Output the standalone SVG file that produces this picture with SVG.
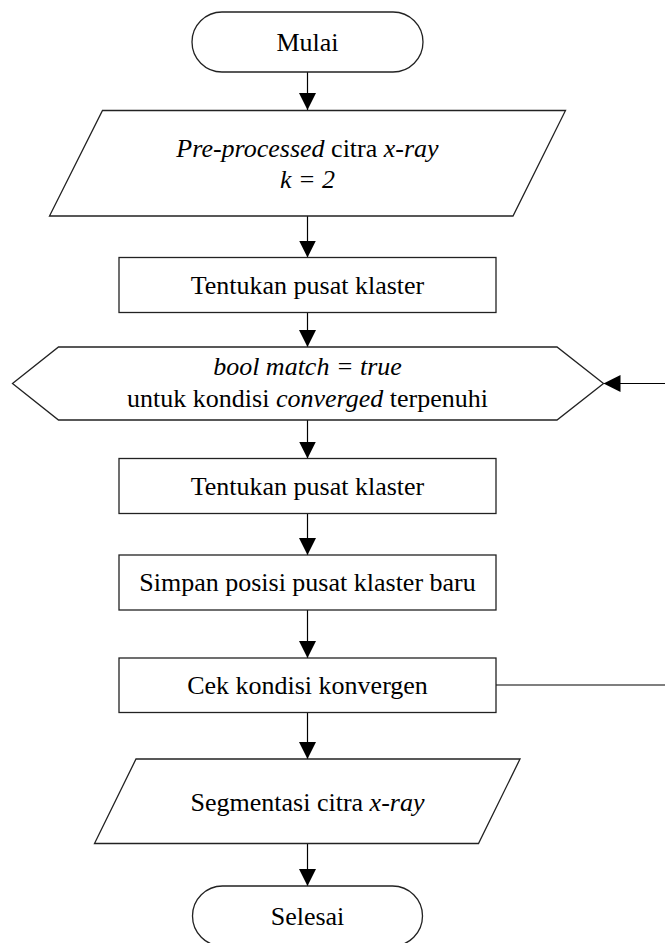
<svg xmlns="http://www.w3.org/2000/svg" width="665" height="943" viewBox="0 0 665 943">
  <style>
    .shape { fill: #ffffff; stroke: #222222; stroke-width: 1.3; }
    .conn { fill: none; stroke: #000000; stroke-width: 1.2; }
    .label { font-size: 26px; fill: #000000; text-anchor: middle; }
    .it { font-style: italic; }
  </style>
  <defs>
    <marker id="arrow" viewBox="0 0 10 10" refX="10" refY="5" markerWidth="17" markerHeight="17" markerUnits="userSpaceOnUse" orient="auto">
      <path d="M0,0 L10,5 L0,10 z" fill="#000000"/>
    </marker>
  </defs>

  <rect width="665" height="943" fill="#ffffff"/>

  <!-- connectors -->
  <g id="connectors">
    <line class="conn" x1="307.5" y1="72" x2="307.5" y2="110" marker-end="url(#arrow)"/>
    <line class="conn" x1="307.5" y1="216" x2="307.5" y2="257.5" marker-end="url(#arrow)"/>
    <line class="conn" x1="307.5" y1="312.5" x2="307.5" y2="347" marker-end="url(#arrow)"/>
    <line class="conn" x1="307.5" y1="420" x2="307.5" y2="458.5" marker-end="url(#arrow)"/>
    <line class="conn" x1="307.5" y1="513.5" x2="307.5" y2="555" marker-end="url(#arrow)"/>
    <line class="conn" x1="307.5" y1="610" x2="307.5" y2="658" marker-end="url(#arrow)"/>
    <line class="conn" x1="307.5" y1="712.5" x2="307.5" y2="759" marker-end="url(#arrow)"/>
    <line class="conn" x1="307.5" y1="843.5" x2="307.5" y2="886" marker-end="url(#arrow)"/>
    <!-- loop back from the convergence check to the loop header -->
    <path class="conn" d="M496,685 H672 V383.5 H603.5" marker-end="url(#arrow)"/>
  </g>

  <g font-family="Liberation Serif, Times New Roman, serif">
  <g id="start">
    <rect class="shape" x="192" y="12" width="231" height="60" rx="30" ry="30"/>
    <text class="label" x="307.5" y="50.5">Mulai</text>
  </g>

  <g id="input">
    <polygon class="shape" points="102.5,110.5 565.5,110.5 513,216 49.5,216"/>
    <text class="label" x="307.5" y="157"><tspan class="it">Pre-processed</tspan> citra <tspan class="it">x-ray</tspan></text>
    <text class="label it" x="307.5" y="188">k = 2</text>
  </g>

  <g id="init-centroids">
    <rect class="shape" x="119" y="257.5" width="377" height="55"/>
    <text class="label" x="307.5" y="293.5">Tentukan pusat klaster</text>
  </g>

  <g id="loop">
    <polygon class="shape" points="12.5,383.5 58.5,347 557,347 603.5,383.5 557,420 58.5,420"/>
    <text class="label it" x="307.5" y="375">bool match = true</text>
    <text class="label" x="307.5" y="407">untuk kondisi <tspan class="it">converged</tspan> terpenuhi</text>
  </g>

  <g id="assign-centroids">
    <rect class="shape" x="119" y="458.5" width="377" height="55"/>
    <text class="label" x="307.5" y="494.5">Tentukan pusat klaster</text>
  </g>

  <g id="save-centroids">
    <rect class="shape" x="119" y="555" width="377" height="55"/>
    <text class="label" x="307.5" y="591">Simpan posisi pusat klaster baru</text>
  </g>

  <g id="check">
    <rect class="shape" x="119" y="658" width="377" height="54.5"/>
    <text class="label" x="307.5" y="694">Cek kondisi konvergen</text>
  </g>

  <g id="output">
    <polygon class="shape" points="136,759 520,759 478.5,843.5 94.5,843.5"/>
    <text class="label" x="307.5" y="810.5"><tspan>Segmentasi citra </tspan><tspan class="it">x-ray</tspan></text>
  </g>

  <g id="end">
    <rect class="shape" x="192.5" y="886" width="230" height="60" rx="30" ry="30"/>
    <text class="label" x="307.5" y="924.5">Selesai</text>
  </g>
  </g>
</svg>
